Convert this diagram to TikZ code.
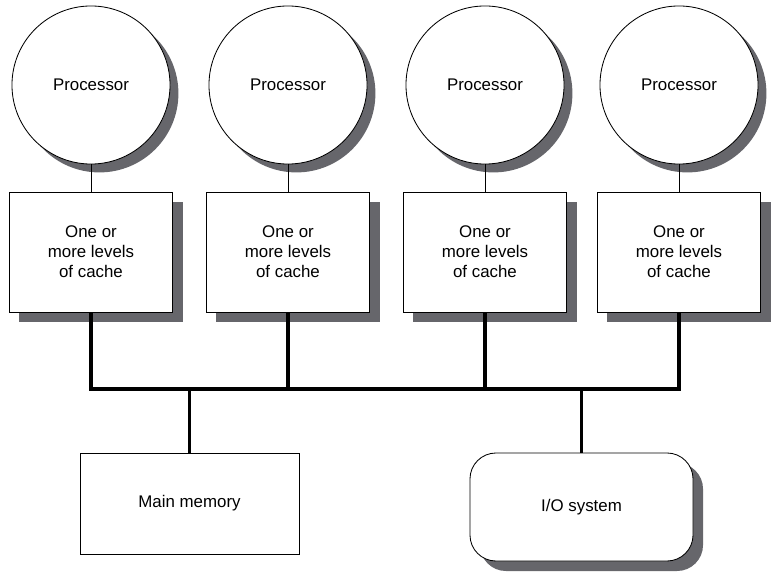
\documentclass[tikz,border=0pt]{standalone}
\usepackage{fontspec}
\setmainfont{Liberation Sans}
\usetikzlibrary{shadows}
\definecolor{shadowgray}{RGB}{102,102,107}

\begin{document}
\begin{tikzpicture}[x=0.025cm, y=-0.025cm]
	\tikzset{
		box shadow/.style={drop shadow={shadow xshift=0.25cm, shadow yshift=-0.25cm, fill=shadowgray, opacity=1}},
		proc node/.style={circle, draw, fill=white, line width=0.6pt, minimum size=3.95cm, font=\fontsize{12}{14.2}\selectfont,
			drop shadow={shadow xshift=0.21cm, shadow yshift=-0.21cm, fill=shadowgray, opacity=1}},
		cache node/.style={rectangle, draw, fill=white, line width=0.6pt, minimum width=4.075cm, minimum height=3cm, align=center, font=\fontsize{12}{14.2}\selectfont, box shadow},
		mem node/.style={rectangle, draw, fill=white, line width=0.6pt, minimum width=5.475cm, minimum height=2.525cm, font=\fontsize{12}{14.2}\selectfont},
		io node/.style={rectangle, rounded corners=0.65cm, draw, fill=white, line width=0.6pt, minimum width=5.575cm, minimum height=2.7cm, font=\fontsize{12}{14.2}\selectfont, box shadow},
		link/.style={line width=0.6pt},
		bus/.style={line width=2.2pt, line join=miter}
	}
	\useasboundingbox (0,0) rectangle (776,577);

	% Processors and their caches
	\foreach \i/\x in {1/91, 2/288, 3/485, 4/679} {
		\node (p\i) at (\x,85) [proc node] {Processor};
		\node (c\i) at (\x,252) [cache node] {One or\\more levels\\of cache};
		\coordinate (b\i) at (\x,389);
		\draw[link] (p\i) -- (c\i);
	}

	% Memory and I/O
	\node (mem) at (189.5,503.5) [mem node] {Main memory};
	\node (io) at (581.5,507) [io node] {I/O system};
	\coordinate (bm) at (189.5,389);
	\coordinate (bio) at (581.5,389);

	% Bus
	\draw[bus] (c1.south) -- (b1) -- (b4) -- (c4.south);
	\foreach \i in {2,3} {
		\draw[bus] (c\i.south) -- (b\i);
	}
	\draw[bus] (bm) -- (mem);
	\draw[bus] (bio) -- (io);
\end{tikzpicture}
\end{document}
